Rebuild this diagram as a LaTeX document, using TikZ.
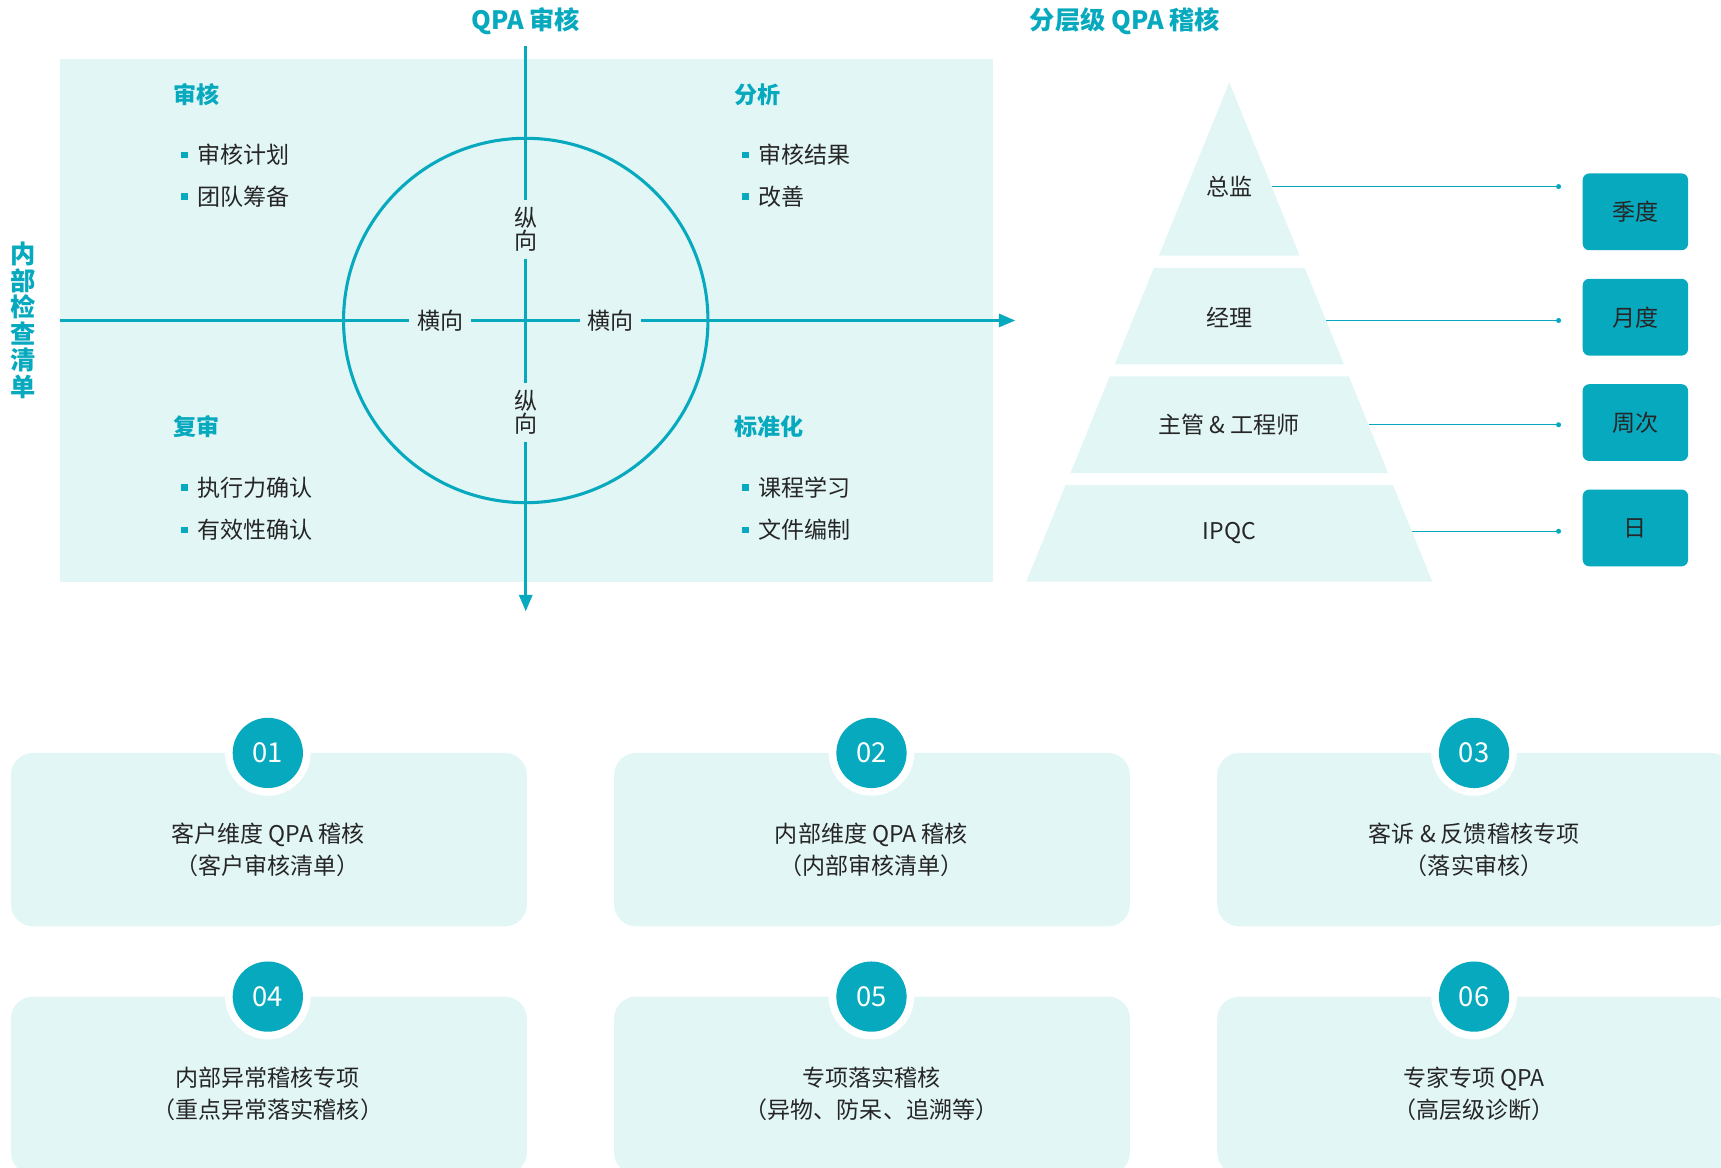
\documentclass[tikz,border=0pt]{standalone}
\usepackage{fontspec}
\setmainfont{Noto Sans CJK SC}
\usetikzlibrary{arrows.meta}
\definecolor{qteal}{HTML}{06A9BE}
\definecolor{qpanel}{HTML}{E3F6F6}
\definecolor{qink}{HTML}{262626}
\newcommand{\qbul}{\textcolor{qteal}{\rule[5pt]{6pt}{6pt}}\hspace{9pt}}
\begin{document}
\begin{tikzpicture}[x=1pt,y=-1pt,
  txt/.style={font=\fontsize{21}{25}\selectfont, text=qink, inner sep=0pt},
  head/.style={font=\fontsize{21}{25}\selectfont\bfseries, text=qteal, inner sep=0pt, anchor=west},
  item/.style={txt, anchor=west},
  title/.style={font=\fontsize{23}{27}\selectfont\bfseries, text=qteal, inner sep=0pt},
  axis/.style={draw=qteal, line width=2.4pt},
  axlab/.style={txt, fill=qpanel, inner xsep=7pt, inner ysep=4pt},
  vlab/.style={txt, fill=qpanel, inner xsep=4pt, inner ysep=7pt, align=center, font=\fontsize{21}{21}\selectfont},
  ringnode/.style={circle, draw=qteal, line width=2.8pt, minimum size=332pt, inner sep=0pt},
  link/.style={draw=qteal, line width=1.3pt},
  period/.style={rectangle, rounded corners=6pt, fill=qteal, minimum width=96pt, minimum height=70pt, inner sep=0pt, font=\fontsize{21}{25}\selectfont, text=qink},
  card/.style={rectangle, rounded corners=20pt, fill=qpanel, minimum width=470pt, inner sep=0pt},
  halo/.style={circle, fill=white, minimum size=78pt, inner sep=0pt},
  numc/.style={circle, fill=qteal, minimum size=64pt, inner sep=0pt, text=white, font=\fontsize{25}{28}\selectfont},
  cardtxt/.style={txt, align=center, font=\fontsize{21}{29}\selectfont}
]
\useasboundingbox (0,0) rectangle (1568,1064);
\clip (0,0) rectangle (1568,1064);

% ---------- left panel ----------
\fill[qpanel] (55,54) rectangle (905,530);
\node[title] (t1) at (479,19) {QPA 审核};
\node[title, align=center, font=\fontsize{23}{24.2}\selectfont\bfseries] (t3) at (21,292) {内\\部\\检\\查\\清\\单};

\coordinate (vtop) at (479,42);
\coordinate (vbot) at (479,557);
\coordinate (hl) at (55,292);
\coordinate (hr) at (925,292);
\draw[axis, -{Triangle[length=15pt,width=12pt]}] (vtop) -- (vbot);
\draw[axis, -{Triangle[length=15pt,width=12pt]}] (hl) -- (hr);
\node[ringnode] (ring) at (479,292) {};

\node[axlab] (h1) at (401,292) {横向};
\node[axlab] (h2) at (556,292) {横向};
\node[vlab] (v1) at (479,209) {纵\\向};
\node[vlab] (v2) at (479,376) {纵\\向};

\node[head] (q1) at (158,86) {审核};
\node[item] (q1a) at (165,141) {\qbul 审核计划};
\node[item] (q1b) at (165,179) {\qbul 团队筹备};
\node[head] (q2) at (669,86) {分析};
\node[item] (q2a) at (676,141) {\qbul 审核结果};
\node[item] (q2b) at (676,179) {\qbul 改善};
\node[head] (q3) at (158,389) {复审};
\node[item] (q3a) at (165,444) {\qbul 执行力确认};
\node[item] (q3b) at (165,483) {\qbul 有效性确认};
\node[head] (q4) at (669,389) {标准化};
\node[item] (q4a) at (676,444) {\qbul 课程学习};
\node[item] (q4b) at (676,483) {\qbul 文件编制};

% ---------- pyramid ----------
\node[title] (t2) at (1025,19) {分层级 QPA 稽核};
\fill[qpanel] (1120,75) -- (1184.2,233) -- (1055.8,233) -- cycle;
\fill[qpanel] (1051.3,244) -- (1188.7,244) -- (1224.5,332) -- (1015.5,332) -- cycle;
\fill[qpanel] (1011,343) -- (1229,343) -- (1264.7,431) -- (975.3,431) -- cycle;
\fill[qpanel] (970.8,442) -- (1269.2,442) -- (1305,530) -- (935,530) -- cycle;
\node[txt] (p1) at (1120,170) {总监};
\node[txt] (p2) at (1120,289) {经理};
\node[txt] (p3) at (1120,387) {主管 \& 工程师};
\node[txt] (p4) at (1120,486) {IPQC};

\coordinate (e1) at (1158.6,170); \coordinate (d1) at (1420,170);
\coordinate (e2) at (1208.2,292); \coordinate (d2) at (1420,292);
\coordinate (e3) at (1246.9,387); \coordinate (d3) at (1420,387);
\coordinate (e4) at (1286.3,484); \coordinate (d4) at (1420,484);
\foreach \i in {1,2,3,4} {
  \draw[link] (e\i) -- (d\i);
  \fill[qteal] (d\i) circle[radius=2.3];
}
\node[period] (b1) at (1490,193) {季度};
\node[period] (b2) at (1490,289) {月度};
\node[period] (b3) at (1490,385) {周次};
\node[period] (b4) at (1490,481) {日};

% ---------- cards ----------
\node[card, minimum height=158pt] (c1) at (245,765) {};
\node[card, minimum height=158pt] (c2) at (794.5,765) {};
\node[card, minimum height=158pt] (c3) at (1344,765) {};
\node[card, minimum height=162pt] (c4) at (245,989) {};
\node[card, minimum height=162pt] (c5) at (794.5,989) {};
\node[card, minimum height=162pt] (c6) at (1344,989) {};

\node[halo] (w1) at (244,686) {}; \node[numc] (n1) at (244,686) {01};
\node[halo] (w2) at (794,686) {}; \node[numc] (n2) at (794,686) {02};
\node[halo] (w3) at (1343,686) {}; \node[numc] (n3) at (1343,686) {03};
\node[halo] (w4) at (244,908) {}; \node[numc] (n4) at (244,908) {04};
\node[halo] (w5) at (794,908) {}; \node[numc] (n5) at (794,908) {05};
\node[halo] (w6) at (1343,908) {}; \node[numc] (n6) at (1343,908) {06};

\node[cardtxt] (x1) at (244,774.5) {客户维度 QPA 稽核\\（客户审核清单）};
\node[cardtxt] (x2) at (794,774.5) {内部维度 QPA 稽核\\（内部审核清单）};
\node[cardtxt] (x3) at (1343,774.5) {客诉 \& 反馈稽核专项\\（落实审核）};
\node[cardtxt] (x4) at (244,996.5) {内部异常稽核专项\\（重点异常落实稽核）};
\node[cardtxt] (x5) at (794,996.5) {专项落实稽核\\（异物、防呆、追溯等）};
\node[cardtxt] (x6) at (1343,996.5) {专家专项 QPA\\（高层级诊断）};
\end{tikzpicture}
\end{document}
